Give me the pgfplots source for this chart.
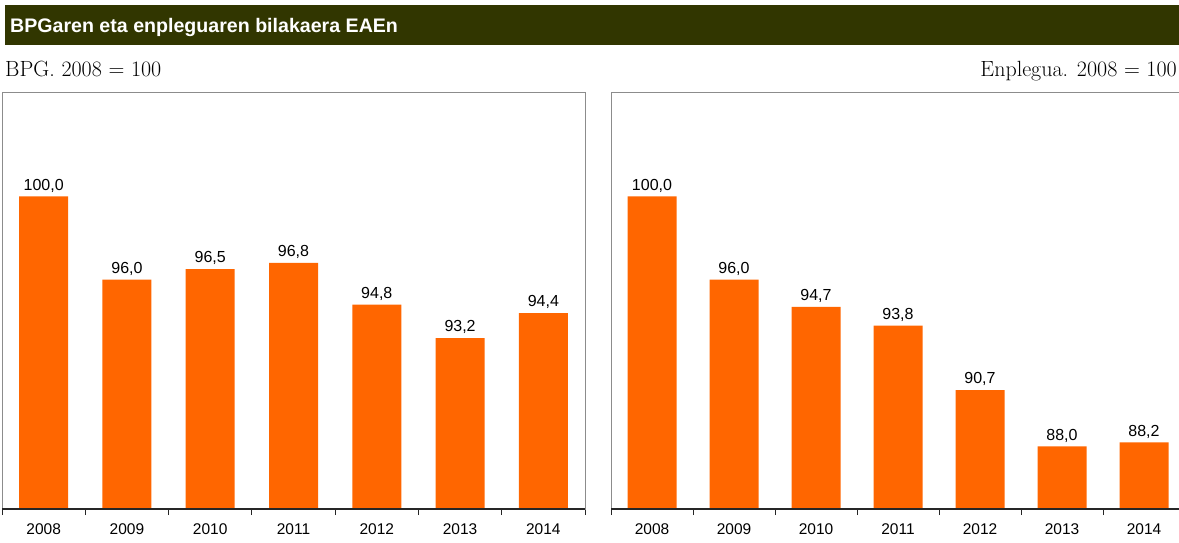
\documentclass[border=0pt]{standalone}
\usepackage{pgfplots}
\pgfplotsset{compat=1.18}
\usepackage{fontspec}
\newfontfamily\arial{Liberation Sans}
\definecolor{barorange}{RGB}{255,102,0}
\definecolor{headolive}{RGB}{49,54,0}

\pgfplotsset{panel/.style={
    scale only axis, height=417pt,
    ymin=85, ymax=105, ytick=\empty,
    xmin=-0.5, xmax=6.5,
    xtick={0,...,6}, xticklabels={2008,2009,2010,2011,2012,2013,2014},
    major tick length=0pt,
    minor xtick={-0.5,0.5,...,6.5},
    minor tick length=6pt,
    minor x tick style={draw=black!85, line width=0.8pt},
    tick align=outside, xtick pos=bottom,
    x tick label style={font=\arial\fontsize{15.5}{18}\selectfont, yshift=-11pt},
    axis line style={draw=gray!90, line width=0.8pt},
    ybar, bar width=49pt,
    nodes near coords,
    /pgf/number format/.cd, use comma, fixed, fixed zerofill, precision=1, assume math mode=true,
    /pgfplots/.cd,
    every node near coord/.append style={font=\arial\fontsize{16}{18}\selectfont, black, inner sep=4pt},
    clip=false,
}}

\begin{document}
\begin{tikzpicture}[x=1pt,y=1pt]
% header
\fill[headolive] (5,-5) rectangle (1190,-45);
\node[anchor=base west, text=white, inner sep=0pt] at (10,-33)
  {\arial\bfseries\fontsize{19.6}{24}\selectfont BPGaren eta enpleguaren bilakaera EAEn};
\node[anchor=base west, inner sep=0pt] at (5,-77) {\fontsize{22}{26}\selectfont BPG. 2008 = 100};
\node[anchor=base east, inner sep=0pt] at (1177,-77) {\fontsize{22}{26}\selectfont Enplegua. 2008 = 100};

\begin{axis}[panel, width=583pt, at={(2pt,-509pt)}, anchor=south west]
  \addplot[fill=barorange, draw=none] coordinates {
    (0,100.0) (1,96.0) (2,96.5) (3,96.8) (4,94.8) (5,93.2) (6,94.4)};
  \draw[black!85, line width=1.3pt] (rel axis cs:0,0) -- (rel axis cs:1,0);
\end{axis}

\begin{axis}[panel, width=574pt, at={(611pt,-509pt)}, anchor=south west]
  \addplot[fill=barorange, draw=none] coordinates {
    (0,100.0) (1,96.0) (2,94.7) (3,93.8) (4,90.7) (5,88.0) (6,88.2)};
  \draw[black!85, line width=1.3pt] (rel axis cs:0,0) -- (rel axis cs:1,0);
\end{axis}

\pgfresetboundingbox
\path[use as bounding box] (0,0) rectangle (1179,-543);
\end{tikzpicture}
\end{document}
